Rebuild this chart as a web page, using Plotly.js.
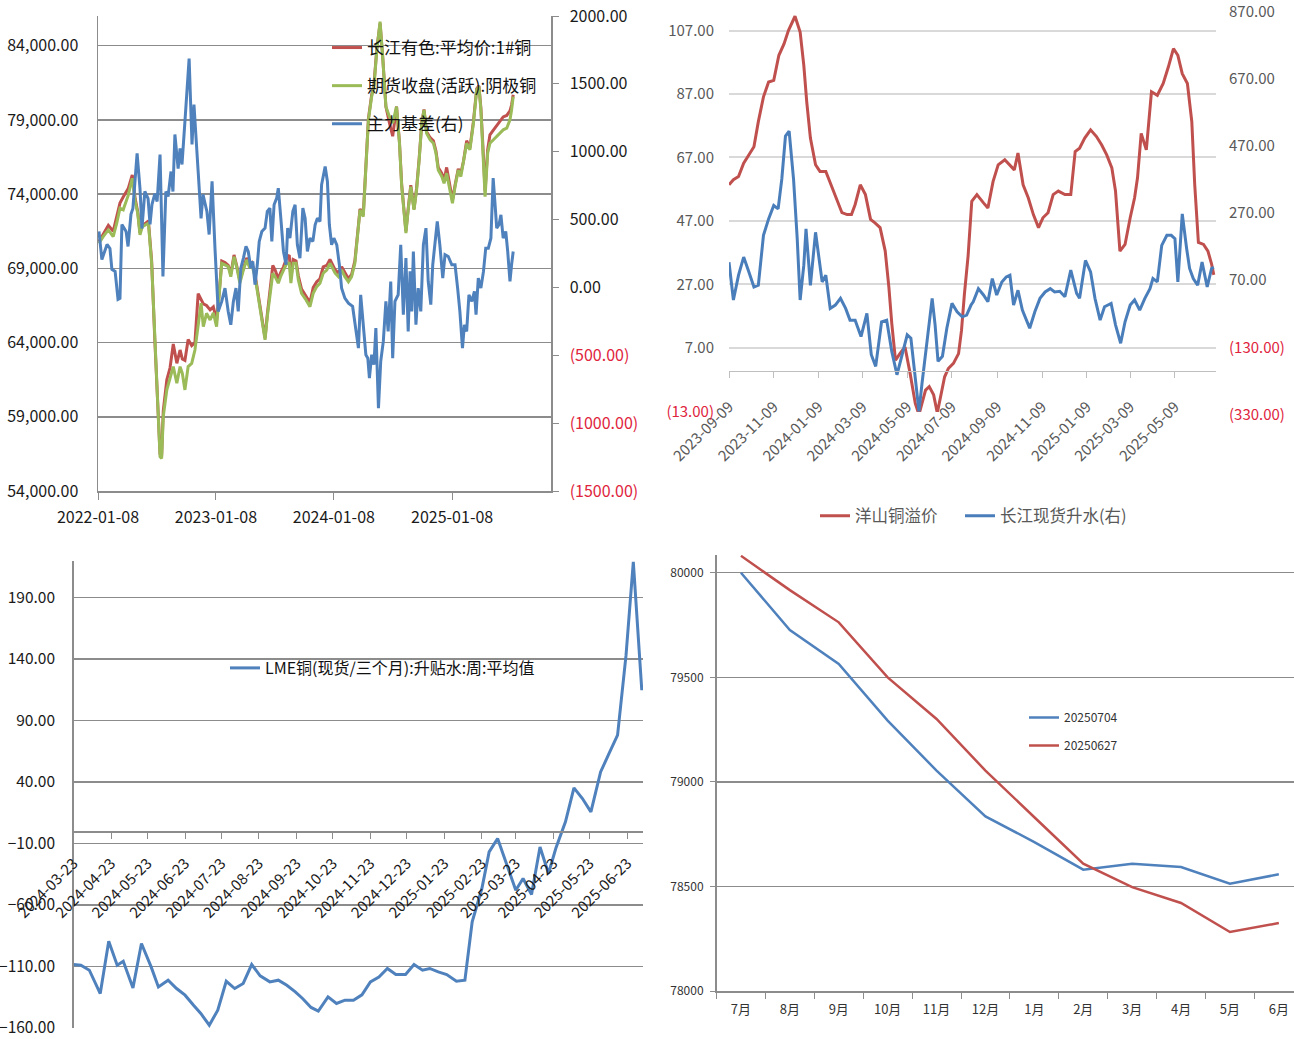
<!DOCTYPE html>
<html>
<head>
<meta charset="utf-8">
<script src="https://cdn.plot.ly/plotly-3.0.1.min.js"></script>
<style>html,body{margin:0;padding:0;background:#fff;}#chart{width:1294px;height:1039px;}</style>
</head>
<body>
<div id="chart"></div>
<script>
// ---------- Top-left panel: prices (left axis) and basis (right axis) ----------
const tlPriceDates = ['2022-01-11','2022-01-24','2022-02-09','2022-02-24','2022-03-07','2022-03-17','2022-03-27','2022-04-12','2022-04-24','2022-05-03','2022-05-11','2022-05-18','2022-05-25','2022-06-02','2022-06-13','2022-06-23','2022-07-03','2022-07-12','2022-07-19','2022-07-24','2022-07-29','2022-08-09','2022-08-19','2022-08-29','2022-09-09','2022-09-19','2022-09-26','2022-10-04','2022-10-14','2022-10-25','2022-11-04','2022-11-14','2022-11-23','2022-11-30','2022-12-10','2022-12-21','2022-12-31','2023-01-10','2023-01-18','2023-01-26','2023-02-05','2023-02-15','2023-02-23','2023-03-05','2023-03-13','2023-03-23','2023-04-03','2023-04-13','2023-04-21','2023-04-29','2023-05-09','2023-05-19','2023-05-30','2023-06-09','2023-06-16','2023-06-24','2023-07-03','2023-07-10','2023-07-20','2023-07-27','2023-08-05','2023-08-15','2023-08-23','2023-08-28','2023-09-04','2023-09-13','2023-09-20','2023-09-30','2023-10-14','2023-10-26','2023-11-05','2023-11-16','2023-11-26','2023-12-06','2023-12-17','2023-12-27','2024-01-12','2024-01-22','2024-02-01','2024-02-11','2024-02-22','2024-03-03','2024-03-13','2024-03-24','2024-03-29','2024-04-08','2024-04-16','2024-04-24','2024-05-04','2024-05-11','2024-05-20','2024-05-30','2024-06-07','2024-06-17','2024-06-28','2024-07-08','2024-07-20','2024-07-29','2024-08-05','2024-08-18','2024-08-25','2024-09-02','2024-09-12','2024-09-20','2024-09-28','2024-10-06','2024-10-13','2024-10-21','2024-11-01','2024-11-11','2024-11-19','2024-11-26','2024-12-07','2024-12-14','2024-12-22','2024-12-30','2025-01-09','2025-01-17','2025-01-27','2025-02-04','2025-02-12','2025-02-22','2025-03-04','2025-03-15','2025-03-25','2025-04-01','2025-04-07','2025-04-15','2025-04-20','2025-04-28','2025-05-05','2025-05-15','2025-05-26','2025-06-05','2025-06-15','2025-06-26','2025-07-06','2025-07-11','2025-07-16'];
const tlSpot = [70800,71300,71900,71500,72400,73400,73800,74400,75300,73700,72800,71400,71900,72000,72200,69500,64100,59600,56500,56400,59400,61500,62300,63900,62600,63500,62900,62800,64200,63800,64000,67300,66900,66600,66500,66200,66400,65500,67300,69500,69400,69200,68600,69900,69200,68200,69000,69700,69300,69400,68600,67200,65700,64300,65900,67400,69200,68900,68300,68700,69100,69700,69900,68300,69600,69500,68500,67600,67100,66700,67700,68100,68300,69100,69200,69600,68900,68700,69100,68700,68300,68600,69500,71900,73000,72600,76200,79100,80700,81400,83800,85500,83300,79900,78800,77900,79900,77500,74600,71500,73000,74600,73000,74400,76400,78800,79700,78200,77800,77600,76900,75800,75400,74900,75800,74700,73600,74600,75700,75400,76200,77600,77100,78900,81100,81300,79800,76500,74200,77000,78000,78300,78600,78900,79200,79300,79600,80000,80700];
const tlFutures = [70690,71140,71590,71140,72040,73050,72940,73950,75070,73500,72710,71250,71810,71920,72040,69340,63950,59460,56310,56200,59010,60810,61700,62380,61260,62380,61930,60810,62380,62600,63500,65300,66650,65070,65970,65520,66000,65070,67090,69340,69230,69120,68440,69790,69120,68000,68890,69570,69120,69230,68440,67090,65520,64180,65750,67090,68670,68440,68000,68440,68890,69340,69340,68000,69340,69340,68220,67320,66870,66420,67320,67770,68000,68670,68890,69340,68670,68440,68890,68440,68100,68440,69340,71810,72940,72480,76080,79000,80570,81240,83720,85620,83270,79900,79220,78780,79900,77430,74500,71370,72940,74500,72940,74280,76300,78780,79670,78100,77650,77430,76760,75630,75180,74730,75410,74500,73390,74500,75630,75180,76080,77430,76980,78780,81020,81240,79670,76300,73830,76760,77430,77650,77880,78100,78330,78440,79000,79670,80570];
const tlBasisDates = ['2022-01-11','2022-01-20','2022-02-05','2022-02-14','2022-02-20','2022-03-02','2022-03-11','2022-03-17','2022-03-23','2022-04-05','2022-04-11','2022-04-20','2022-04-26','2022-05-09','2022-05-18','2022-05-24','2022-06-02','2022-06-12','2022-06-18','2022-06-24','2022-07-03','2022-07-10','2022-07-19','2022-07-28','2022-08-06','2022-08-13','2022-08-22','2022-08-28','2022-09-03','2022-09-13','2022-09-19','2022-09-25','2022-10-04','2022-10-17','2022-10-26','2022-11-01','2022-11-14','2022-11-23','2022-11-29','2022-12-11','2022-12-18','2022-12-27','2023-01-05','2023-01-10','2023-01-15','2023-01-26','2023-02-05','2023-02-15','2023-02-23','2023-03-03','2023-03-11','2023-03-18','2023-03-26','2023-04-03','2023-04-11','2023-04-18','2023-04-26','2023-05-02','2023-05-09','2023-05-16','2023-05-22','2023-05-30','2023-06-09','2023-06-16','2023-06-24','2023-06-30','2023-07-07','2023-07-15','2023-07-20','2023-07-27','2023-08-05','2023-08-13','2023-08-18','2023-08-25','2023-09-03','2023-09-10','2023-09-17','2023-09-25','2023-10-04','2023-10-11','2023-10-18','2023-10-26','2023-11-04','2023-11-11','2023-11-18','2023-11-26','2023-12-01','2023-12-12','2023-12-19','2023-12-25','2024-01-01','2024-01-08','2024-01-17','2024-01-25','2024-02-01','2024-02-11','2024-02-22','2024-03-06','2024-03-17','2024-03-24','2024-03-31','2024-04-08','2024-04-16','2024-04-22','2024-04-27','2024-05-04','2024-05-11','2024-05-17','2024-05-25','2024-06-01','2024-06-09','2024-06-17','2024-06-24','2024-07-02','2024-07-08','2024-07-15','2024-07-25','2024-08-02','2024-08-10','2024-08-18','2024-08-25','2024-08-31','2024-09-05','2024-09-10','2024-09-18','2024-09-25','2024-10-03','2024-10-11','2024-10-19','2024-10-26','2024-11-03','2024-11-09','2024-11-16','2024-11-23','2024-12-01','2024-12-10','2024-12-17','2024-12-27','2025-01-07','2025-01-17','2025-01-25','2025-02-01','2025-02-09','2025-02-15','2025-02-22','2025-03-01','2025-03-10','2025-03-18','2025-03-23','2025-03-30','2025-04-07','2025-04-15','2025-04-22','2025-04-30','2025-05-08','2025-05-15','2025-05-21','2025-05-26','2025-06-02','2025-06-08','2025-06-15','2025-06-23','2025-06-29','2025-07-06','2025-07-11','2025-07-16'];
const tlBasis = [412,206,317,287,133,118,-88,-81,464,412,302,538,582,987,729,434,707,655,464,611,692,633,979,81,707,670,854,707,1127,876,1024,906,1222,1686,1053,1348,854,508,685,560,390,781,290,66,-177,-103,-5,-177,-275,-103,-5,-177,142,216,302,265,142,191,20,167,339,412,437,560,584,339,609,658,731,535,265,167,437,363,560,609,314,216,584,510,265,363,339,462,510,486,756,891,781,462,314,363,314,167,-5,-79,-116,-140,-348,-447,-54,-250,-496,-521,-668,-496,-569,-300,-889,-545,-398,-103,-324,44,-521,-103,-54,314,-201,216,-324,118,-177,265,-275,-5,-177,314,437,44,-127,167,314,486,314,68,241,228,167,167,-5,-177,-447,-275,-324,-54,-103,-29,-201,68,-5,118,289,289,363,805,609,437,462,535,363,412,265,44,167,265];
const tlXTicks = ['2022-01-08','2023-01-08','2024-01-08','2025-01-08'];
const tlLeftTicks = [54000,59000,64000,69000,74000,79000,84000];
const tlRightTicks = [-1500,-1000,-500,0,500,1000,1500,2000];
const tlNames = ['长江有色:平均价:1#铜','期货收盘(活跃):阴极铜','主力基差(右)'];

// ---------- Top-right panel: Yangshan premium (left) and Changjiang spot premium (right) ----------
const trPremDates = ['2023-09-09','2023-09-15','2023-09-22','2023-09-29','2023-10-06','2023-10-13','2023-10-19','2023-10-26','2023-11-02','2023-11-09','2023-11-16','2023-11-23','2023-11-29','2023-12-08','2023-12-15','2023-12-20','2023-12-24','2023-12-29','2024-01-05','2024-01-11','2024-01-19','2024-01-27','2024-02-03','2024-02-10','2024-02-17','2024-02-23','2024-02-28','2024-03-06','2024-03-13','2024-03-20','2024-03-26','2024-04-02','2024-04-09','2024-04-14','2024-04-18','2024-04-23','2024-04-29','2024-05-06','2024-05-13','2024-05-20','2024-05-25','2024-06-03','2024-06-08','2024-06-14','2024-06-19','2024-06-23','2024-06-29','2024-07-04','2024-07-11','2024-07-18','2024-07-22','2024-07-26','2024-07-31','2024-08-05','2024-08-12','2024-08-21','2024-08-27','2024-09-03','2024-09-10','2024-09-19','2024-09-26','2024-10-02','2024-10-07','2024-10-14','2024-10-21','2024-10-28','2024-11-04','2024-11-10','2024-11-17','2024-11-24','2024-12-01','2024-12-10','2024-12-18','2024-12-24','2024-12-30','2025-01-06','2025-01-14','2025-01-22','2025-01-29','2025-02-05','2025-02-12','2025-02-17','2025-02-23','2025-03-02','2025-03-09','2025-03-15','2025-03-19','2025-03-24','2025-03-31','2025-04-07','2025-04-15','2025-04-23','2025-04-30','2025-05-07','2025-05-13','2025-05-19','2025-05-26','2025-06-01','2025-06-05','2025-06-10','2025-06-17','2025-06-23','2025-06-28','2025-07-01'];
const trPremium = [58.4,60.0,61.0,65.2,67.8,70.4,78.3,86.1,90.8,91.3,99.2,102.8,107.0,111.5,106.5,96.0,84.5,73.1,64.7,62.6,62.6,57.9,53.2,49.6,49.0,49.0,52.2,58.4,55.3,47.5,46.4,44.9,37.5,26.1,14.6,3.1,5.2,7.3,-1.1,-10.5,-14.0,-6.3,-5.2,-7.8,-13.5,-9.0,-2.1,0.5,2.1,5.2,12.5,24.0,36.0,53.2,55.3,52.7,51.1,59.4,64.7,66.3,64.7,63.1,68.4,58.4,54.3,49.0,44.9,48.0,49.6,55.3,56.4,55.3,55.3,68.9,69.9,73.1,75.7,73.6,71.0,67.8,63.7,56.4,37.5,39.6,48.0,54.3,60.6,74.6,69.4,87.7,86.6,90.3,95.5,101.3,99.2,93.4,90.3,78.3,58.4,40.2,39.6,37.5,33.4,30.0];
const trSpotDates = ['2023-09-09','2023-09-15','2023-09-22','2023-09-29','2023-10-06','2023-10-13','2023-10-19','2023-10-26','2023-11-02','2023-11-09','2023-11-15','2023-11-20','2023-11-25','2023-11-30','2023-12-06','2023-12-11','2023-12-15','2023-12-20','2023-12-23','2023-12-29','2024-01-05','2024-01-10','2024-01-14','2024-01-19','2024-01-25','2024-02-01','2024-02-08','2024-02-15','2024-02-21','2024-02-28','2024-03-07','2024-03-15','2024-03-21','2024-03-27','2024-04-04','2024-04-11','2024-04-18','2024-04-25','2024-05-02','2024-05-09','2024-05-14','2024-05-20','2024-05-25','2024-05-29','2024-06-05','2024-06-12','2024-06-16','2024-06-20','2024-06-26','2024-07-02','2024-07-09','2024-07-16','2024-07-23','2024-07-29','2024-08-04','2024-08-07','2024-08-14','2024-08-21','2024-08-27','2024-09-02','2024-09-08','2024-09-15','2024-09-21','2024-09-26','2024-10-01','2024-10-07','2024-10-13','2024-10-19','2024-10-23','2024-10-30','2024-11-06','2024-11-13','2024-11-20','2024-11-26','2024-12-03','2024-12-10','2024-12-18','2024-12-26','2024-12-30','2025-01-07','2025-01-14','2025-01-20','2025-01-27','2025-02-02','2025-02-11','2025-02-17','2025-02-24','2025-03-02','2025-03-09','2025-03-15','2025-03-22','2025-03-29','2025-04-05','2025-04-09','2025-04-15','2025-04-21','2025-04-28','2025-05-04','2025-05-09','2025-05-13','2025-05-19','2025-05-25','2025-05-29','2025-06-03','2025-06-09','2025-06-15','2025-06-22','2025-06-28','2025-07-01'];
const trSpot = [115,2,76,130,86,41,46,195,244,284,274,363,491,506,363,185,2,106,214,46,204,125,56,76,-23,-13,7,-23,-58,-58,-107,-38,-161,-196,-63,-58,-152,-221,-161,-102,-112,-241,-330,-250,-112,7,-72,-181,-166,-82,-8,-33,-48,-43,-13,-3,36,17,-3,66,17,56,71,76,-13,31,-28,-63,-82,-33,7,26,36,26,28,12,91,22,7,120,86,7,-58,-18,-8,-72,-127,-63,-13,2,-28,7,36,66,56,165,195,195,185,56,259,155,96,66,46,115,41,96,100];
const trXTicks = ['2023-09-09','2023-11-09','2024-01-09','2024-03-09','2024-05-09','2024-07-09','2024-09-09','2024-11-09','2025-01-09','2025-03-09','2025-05-09'];
const trLeftTicks = [-13,7,27,47,67,87,107];
const trRightTicks = [-330,-130,70,270,470,670,870];
const trNames = ['洋山铜溢价','长江现货升水(右)'];

// ---------- Bottom-left panel: LME cash/3M spread weekly average ----------
const blDates = ['2024-03-23','2024-03-29','2024-04-05','2024-04-14','2024-04-21','2024-04-28','2024-05-03','2024-05-11','2024-05-18','2024-05-26','2024-06-01','2024-06-09','2024-06-16','2024-06-23','2024-06-30','2024-07-06','2024-07-13','2024-07-20','2024-07-27','2024-08-03','2024-08-10','2024-08-17','2024-08-24','2024-09-01','2024-09-08','2024-09-15','2024-09-22','2024-09-28','2024-10-05','2024-10-11','2024-10-19','2024-10-26','2024-11-02','2024-11-09','2024-11-16','2024-11-23','2024-11-30','2024-12-07','2024-12-14','2024-12-22','2024-12-29','2025-01-05','2025-01-11','2025-01-18','2025-01-25','2025-02-02','2025-02-09','2025-02-15','2025-02-23','2025-03-01','2025-03-08','2025-03-15','2025-03-23','2025-03-29','2025-04-05','2025-04-12','2025-04-19','2025-04-25','2025-05-03','2025-05-10','2025-05-17','2025-05-24','2025-06-01','2025-06-08','2025-06-15','2025-06-22','2025-06-28','2025-07-05'];
const blSpread = [-108.4,-109,-113,-132,-89.4,-109,-105.7,-127.4,-91.3,-110.3,-126.6,-121.1,-127.9,-133.3,-141.5,-148.2,-157.7,-145.5,-122,-127.9,-123.8,-108.4,-117.6,-122.5,-121.1,-125.2,-130.6,-136,-143.3,-146.3,-134.7,-140.1,-137.4,-137.4,-133,-122.5,-118.5,-111.6,-116.5,-116.5,-108.4,-113,-111.6,-114.4,-116.5,-122,-121.1,-73.7,-46.6,-16.8,-5.9,-25,-48,-38.5,-51.5,-12.8,-34.4,-14.1,7.6,35.2,26.6,15.7,48.2,63.2,78.1,143.1,219,114.6];
const blXTicks = ['2024-03-23','2024-04-23','2024-05-23','2024-06-23','2024-07-23','2024-08-23','2024-09-23','2024-10-23','2024-11-23','2024-12-23','2025-01-23','2025-02-23','2025-03-23','2025-04-23','2025-05-23','2025-06-23'];
const blTicks = [-160,-110,-60,-10,40,90,140,190];
const blName = 'LME铜(现货/三个月):升贴水:周:平均值';

// ---------- Bottom-right panel: forward curves ----------
const brMonths = ['7月','8月','9月','10月','11月','12月','1月','2月','3月','4月','5月','6月'];
const brCurve0704 = [80000,79726,79564,79293,79054,78835,78712,78580,78609,78593,78513,78558];
const brCurve0627 = [80081,79917,79763,79500,79301,79054,78831,78609,78497,78421,78282,78325];
const brTicks = [78000,78500,79000,79500,80000];
const brNames = ['20250704','20250627'];

// ---------- helpers for labels ----------
const NEG = '#e0243c';
function fmtParen(v){
  const s = Math.abs(v).toFixed(2);
  return v < 0 ? '<span style="color:' + NEG + '">(' + s + ')</span>' : s;
}

const W = 1294, H = 1039;
const px = x => x / W;
const py = y => 1 - y / H;

const traces = [
  {x: tlPriceDates, y: tlSpot, name: tlNames[0], type: 'scatter', mode: 'lines', xaxis: 'x', yaxis: 'y',
   line: {color: '#c0504d', width: 3}, legend: 'legend', legendgroup: 'a'},
  {x: tlPriceDates, y: tlFutures, name: tlNames[1], type: 'scatter', mode: 'lines', xaxis: 'x', yaxis: 'y',
   line: {color: '#9bbb59', width: 3}, legend: 'legend', legendgroup: 'b'},
  {x: tlBasisDates, y: tlBasis, name: tlNames[2], type: 'scatter', mode: 'lines', xaxis: 'x', yaxis: 'y2',
   line: {color: '#4f81bd', width: 3}, legend: 'legend', legendgroup: 'c'},

  {x: trPremDates, y: trPremium, name: trNames[0], type: 'scatter', mode: 'lines', xaxis: 'x2', yaxis: 'y3',
   line: {color: '#c0504d', width: 3}, legend: 'legend2'},
  {x: trSpotDates, y: trSpot, name: trNames[1], type: 'scatter', mode: 'lines', xaxis: 'x2', yaxis: 'y4',
   line: {color: '#4a7ebb', width: 3}, legend: 'legend5'},

  {x: blDates, y: blSpread, name: blName, type: 'scatter', mode: 'lines', xaxis: 'x3', yaxis: 'y5',
   line: {color: '#4f81bd', width: 3}, legend: 'legend3'},

  {x: brMonths, y: brCurve0704, name: brNames[0], type: 'scatter', mode: 'lines', xaxis: 'x4', yaxis: 'y6',
   line: {color: '#4f81bd', width: 2.5}, legend: 'legend4', legendgroup: 'p'},
  {x: brMonths, y: brCurve0627, name: brNames[1], type: 'scatter', mode: 'lines', xaxis: 'x4', yaxis: 'y6',
   line: {color: '#c0504d', width: 2.5}, legend: 'legend4', legendgroup: 'q'}
];

const GRID = '#8c8c8c';
const FONT = 'Noto Sans CJK SC, Noto Sans, DejaVu Sans, sans-serif';

const layout = {
  width: W, height: H,
  margin: {l: 0, r: 0, t: 0, b: 0},
  paper_bgcolor: '#ffffff', plot_bgcolor: 'rgba(0,0,0,0)',
  font: {family: FONT, color: '#1a1a1a'},
  showlegend: true,
  // top-left
  xaxis: {domain: [px(98), px(551)], anchor: 'y', type: 'date', range: ['2022-01-08', '2025-11-10'],
    tickvals: tlXTicks, tickformat: '%Y-%m-%d', showgrid: false, zeroline: false,
    showline: true, linecolor: GRID, linewidth: 1.5, ticks: 'outside', ticklen: 7, tickcolor: GRID,
    tickfont: {size: 16, color: '#1a1a1a'}, ticklabelstandoff: 4},
  yaxis: {domain: [py(491), py(16)], anchor: 'x', range: [54000, 86000], tickvals: tlLeftTicks,
    tickformat: ',.2f', showgrid: true, gridcolor: GRID, gridwidth: 1.5, zeroline: false,
    showline: true, linecolor: GRID, linewidth: 1.5, ticks: '', ticklabelstandoff: 15,
    tickfont: {size: 16, color: '#1a1a1a'}},
  yaxis2: {overlaying: 'y', side: 'right', anchor: 'x', range: [-1500, 2000], tickvals: tlRightTicks,
    ticktext: tlRightTicks.map(fmtParen), showgrid: false, zeroline: false,
    showline: true, linecolor: GRID, linewidth: 1.5, ticks: 'outside', ticklen: 6, tickcolor: GRID,
    ticklabelstandoff: 8, tickfont: {size: 16, color: '#1a1a1a'}, ticklabeloverflow: 'allow'},
  // top-right
  xaxis2: {domain: [px(729), px(1216)], anchor: 'free', position: py(370.6), type: 'date',
    range: ['2023-09-09', '2025-07-04'], tickvals: trXTicks, tickformat: '%Y-%m-%d', tickangle: -45,
    showgrid: false, zeroline: false, showline: true, linecolor: '#bfbfbf', linewidth: 1.5,
    ticks: 'outside', ticklen: 6, tickcolor: '#bfbfbf', ticklabelstandoff: 14,
    tickfont: {size: 15, color: '#595959'}},
  yaxis3: {domain: [py(412), py(8)], anchor: 'x2', range: [-13.2, 114.1], tickvals: trLeftTicks,
    ticktext: trLeftTicks.map(fmtParen), showgrid: true, gridcolor: '#d9d9d9', gridwidth: 2,
    zeroline: false, showline: false, ticks: '', ticklabelstandoff: 14,
    tickfont: {size: 15, color: '#595959'}},
  yaxis4: {overlaying: 'y3', side: 'right', anchor: 'x2', range: [-332, 873], tickvals: trRightTicks,
    ticktext: trRightTicks.map(fmtParen), showgrid: false, zeroline: false, showline: false, ticks: '',
    ticklabelstandoff: 12, ticklabelshift: 3, tickfont: {size: 15, color: '#595959'}, ticklabeloverflow: 'allow'},
  // bottom-left
  xaxis3: {domain: [px(73.6), px(643)], anchor: 'free', position: py(831.2), type: 'date',
    range: ['2024-03-23', '2025-07-06'], tickvals: blXTicks, tickformat: '%Y-%m-%d', tickangle: -45,
    showgrid: false, zeroline: false, showline: true, linecolor: GRID, linewidth: 1.5,
    ticks: 'outside', ticklen: 6, tickcolor: GRID, ticklabelstandoff: 10,
    tickfont: {size: 15, color: '#1a1a1a'}},
  yaxis5: {domain: [py(1028), py(561)], anchor: 'x3', range: [-160, 219.7], tickvals: blTicks,
    tickformat: '.2f', showgrid: true, gridcolor: GRID, gridwidth: 1.5, zeroline: false,
    showline: true, linecolor: GRID, linewidth: 1.5, ticks: '', ticklabelstandoff: 14,
    tickfont: {size: 15.5, color: '#1a1a1a'}},
  // bottom-right
  xaxis4: {domain: [px(716.5), 1], anchor: 'y6', type: 'category', categoryarray: brMonths,
    range: [-0.5, 11.31], tickson: 'boundaries', showgrid: false, zeroline: false,
    showline: true, linecolor: GRID, linewidth: 1.5, ticks: 'outside', ticklen: 6, tickcolor: GRID,
    ticklabelstandoff: 6, tickfont: {size: 13, color: '#333333'}},
  yaxis6: {domain: [py(991), py(555)], anchor: 'x4', range: [78000, 80085], tickvals: brTicks,
    tickformat: 'd', showgrid: true, gridcolor: GRID, gridwidth: 1.3, zeroline: false,
    showline: true, linecolor: GRID, linewidth: 1.5, ticks: 'outside', ticklen: 5, tickcolor: GRID,
    ticklabelstandoff: 4, tickfont: {size: 12, color: '#333333'}},
  // legends
  legend: {x: px(327), y: py(30), xanchor: 'left', yanchor: 'top', bgcolor: 'rgba(0,0,0,0)',
    font: {size: 17, color: '#111111'}, tracegroupgap: 13, traceorder: 'grouped'},
  legend2: {x: px(815), y: py(516), xanchor: 'left', yanchor: 'middle',
    bgcolor: 'rgba(0,0,0,0)', font: {size: 16.5, color: '#595959'}},
  legend5: {x: px(960), y: py(516), xanchor: 'left', yanchor: 'middle',
    bgcolor: 'rgba(0,0,0,0)', font: {size: 16.5, color: '#595959'}},
  legend3: {x: px(225), y: py(668), xanchor: 'left', yanchor: 'middle', bgcolor: 'rgba(0,0,0,0)',
    font: {size: 16, color: '#111111'}},
  legend4: {x: px(1024), y: py(703), xanchor: 'left', yanchor: 'top', bgcolor: 'rgba(0,0,0,0)',
    font: {size: 12, color: '#333333'}, tracegroupgap: 9, traceorder: 'grouped'}
};

Plotly.newPlot('chart', traces, layout, {staticPlot: true, displayModeBar: false});
</script>
</body>
</html>
